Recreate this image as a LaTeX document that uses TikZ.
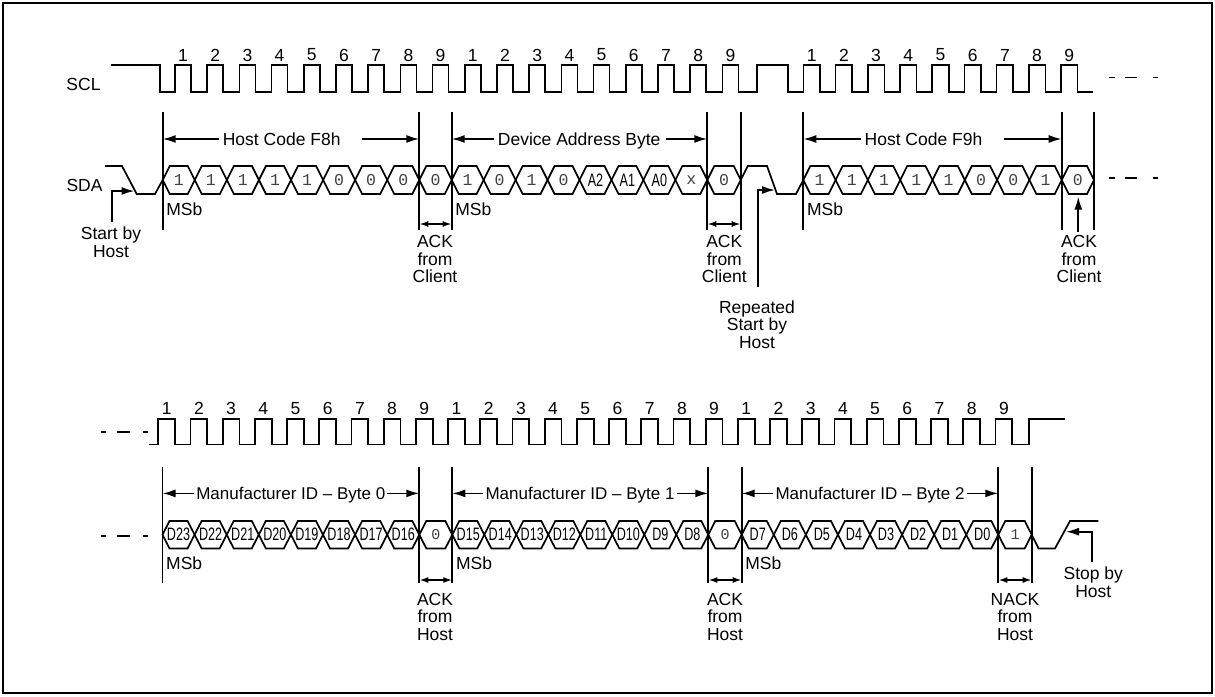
\documentclass[tikz,border=0pt]{standalone}
\usepackage{fontspec}
\usepackage{graphicx}
\setmainfont{Liberation Sans}
\newfontfamily\monof{Liberation Mono}
\usetikzlibrary{arrows.meta}
\newcommand{\bt}[1]{{\monof\fontsize{16.5}{16.5}\selectfont\color{black!75}#1}}
\newcommand{\bs}[1]{{\monof\fontsize{15}{15}\selectfont\color{black!75}#1}}
\newcommand{\dl}[1]{{\fontsize{18}{18}\selectfont\scalebox{0.7}[1]{#1}}}
\tikzset{
  sig/.style={line width=1.7pt},
  vline/.style={line width=1.7pt},
  lbl/.style={font=\fontsize{17.5}{17.5}\selectfont, inner sep=0pt},
  mlbl/.style={font=\fontsize{17}{17}\selectfont, inner sep=0pt},
  multi/.style={lbl, align=center, anchor=north},
  arr/.style={line width=1.7pt, -{Latex[length=13pt,width=8pt]}},
  ackarr/.style={line width=1.7pt, {Latex[length=9pt,width=6pt]}-{Latex[length=9pt,width=6pt]}}
}
% hexagon data cells: x0, width, ymid, half height, name prefix, labels
\newcommand{\hexrow}[6]{%
  \foreach \lab [count=\i from 0] in {#6} {%
    \pgfmathsetmacro\xa{#1+#2*\i}%
    \pgfmathsetmacro\xb{\xa+#2}%
    \draw[sig] (\xa,#3) -- ({\xa+7},{#3-#4}) -- ({\xb-7},{#3-#4}) -- (\xb,#3) -- ({\xb-7},{#3+#4}) -- ({\xa+7},{#3+#4}) -- cycle;
    \node[inner sep=0pt] (#5\i) at ({(\xa+\xb)/2},#3) {\lab};
  }}
% bracket arrows from a label to two markers
\newcommand{\brk}[6]{%
  \coordinate (#1L) at ([xshift=-#2pt,yshift=#6pt]#1.base west);
  \coordinate (#1R) at ([xshift=#3pt,yshift=#6pt]#1.base east);
  \draw[arr] (#1L) -- (#1L -| #4);
  \draw[arr] (#1R) -- (#1R -| #5);}
\begin{document}
\begin{tikzpicture}[x=1pt,y=-1pt]
\useasboundingbox (0,0) rectangle (1215,696);
\draw[line width=1.8pt] (3,3) rectangle (1212,692.7);

% ---------------- top row ----------------
\node[lbl] (scl) at (83.5,84.3) {SCL};
\node[lbl] (sda) at (84.5,185.7) {SDA};

\draw[sig] (111,65) -- (160,65) -- (160,91.7)
  \foreach \k in {0,...,17} { -- ({183+32.2*\k-8},91.7) -- ({183+32.2*\k-8},65) -- ({183+32.2*\k+8},65) -- ({183+32.2*\k+8},91.7) }
  -- (757,91.7) -- (757,65) -- (788,65) -- (788,91.7)
  \foreach \k in {0,...,8} { -- ({811.7+32.2*\k-8.3},91.7) -- ({811.7+32.2*\k-8.3},65) -- ({811.7+32.2*\k+8.3},65) -- ({811.7+32.2*\k+8.3},91.7) }
  -- (1093,91.7);

\foreach \k in {0,...,17} {\pgfmathtruncatemacro\n{mod(\k,9)+1}\node[lbl] (tp\k) at ({183+32.2*\k},55) {\n};}
\foreach \k in {0,...,8} {\pgfmathtruncatemacro\n{\k+1}\node[lbl] (tq\k) at ({811.7+32.2*\k},55) {\n};}

\foreach \x [count=\i] in {162.7,419.3,451.7,707.3,740.7,803.3,1061.7,1094}
  \draw[vline] (\x,111.5) -- (\x,229.5) coordinate (tm\i);

\draw[sig] (105,166) -- (122,166) -- (136.7,194) -- (155,194) -- (162.7,180);
\hexrow{162.7}{32.075}{180}{14}{ta}{\bt{1},\bt{1},\bt{1},\bt{1},\bt{1},\bt{0},\bt{0},\bt{0}}
\hexrow{419.3}{32.4}{180}{14}{tk}{\bt{0}}
\hexrow{451.7}{31.95}{180}{14}{tb}{\bt{1},\bt{0},\bt{1},\bt{0},\dl{A2},\dl{A1},\dl{A0},\bt{x}}
\hexrow{707.3}{33.4}{180}{14}{tl}{\bt{0}}
\draw[sig] (740.7,180) -- (747.7,166) -- (767,166) -- (777,194) -- (796,194) -- (803.3,180);
\hexrow{803.3}{32.3}{180}{14}{tc}{\bt{1},\bt{1},\bt{1},\bt{1},\bt{1},\bt{0},\bt{0},\bt{1}}
\hexrow{1061.7}{32.3}{180}{14}{tm}{\bt{0}}

\foreach \y in {77.5,178} {\draw[sig] (1109,\y) -- (1115,\y) (1125,\y) -- (1137,\y) (1152.7,\y) -- (1158,\y);}

\node[lbl, anchor=base] (hc8) at (281.7,145.2) {Host Code F8h};
\node[lbl, anchor=base] (dab) at (579.2,145.2) {Device Address Byte};
\node[lbl, anchor=base] (hc9) at (923.5,145.2) {Host Code F9h};
\brk{hc8}{4}{21}{tm1}{tm2}{6.2}
\brk{dab}{4}{5}{tm3}{tm4}{6.2}
\brk{hc9}{3}{21}{tm6}{tm7}{6.2}

\node[lbl, anchor=base west] (msb1) at (166.2,215.2) {MSb};
\node[lbl, anchor=base west] (msb2) at (455.2,215.2) {MSb};
\node[lbl, anchor=base west] (msb3) at (806.8,215.2) {MSb};

\draw[ackarr] ([yshift=5.5pt]tm2) -- ([yshift=5.5pt]tm3);
\draw[ackarr] ([yshift=5.5pt]tm4) -- ([yshift=5.5pt]tm5);

\node[multi] (ack1) at (435,235.4) {ACK\\from\\Client};
\node[multi] (ack2) at (724.3,235.4) {ACK\\from\\Client};
\node[multi] (ack3) at (1079,235.4) {ACK\\from\\Client};
\coordinate (ackpt) at (1078.3,196.7);
\draw[arr] ([xshift=-0.7pt,yshift=3.5pt]ack3.north) -- (ackpt);

\node[multi] (sbh) at (111,226.7) {Start by\\Host};
\coordinate (sdaS) at (134.5,191);
\draw[arr] ([xshift=0.7pt,yshift=5pt]sbh.north) |- (sdaS);

\node[multi] (rsh) at (757,300.4) {Repeated\\Start by\\Host};
\coordinate (sdaR) at (775,190);
\draw[arr] ([xshift=0.7pt,yshift=13.5pt]rsh.north) |- (sdaR);

% ---------------- bottom row ----------------
\foreach \y in {432.3,535.7} {\draw[sig] (101,\y) -- (106,\y) (117,\y) -- (130,\y) (143,\y) -- (147.5,\y);}

\draw[sig] (149,444.5)
  \foreach \k in {0,...,26} { -- ({166.7+32.2*\k-8.4},444.5) -- ({166.7+32.2*\k-8.4},419) -- ({166.7+32.2*\k+8.4},419) -- ({166.7+32.2*\k+8.4},444.5) }
  -- (1029,444.5) -- (1029,419) -- (1065,419);

\foreach \k in {0,...,26} {\pgfmathtruncatemacro\n{mod(\k,9)+1}\node[lbl] (bp\k) at ({166.7+32.2*\k},408.3) {\n};}

\foreach \x [count=\i] in {162.5,419.3,452.3,708.3,741.7,998.3,1031.7}
  \draw[vline] (\x,466.7) -- (\x,583.3) coordinate (bm\i);

\hexrow{162.5}{32.1}{534.7}{13.7}{ba}{\dl{D23},\dl{D22},\dl{D21},\dl{D20},\dl{D19},\dl{D18},\dl{D17},\dl{D16}}
\hexrow{419.3}{33}{534.7}{13.7}{bk}{\bs{0}}
\hexrow{452.3}{32}{534.7}{13.7}{bb}{\dl{D15},\dl{D14},\dl{D13},\dl{D12},\dl{D11},\dl{D10},\dl{D9},\dl{D8}}
\hexrow{708.3}{33.4}{534.7}{13.7}{bl}{\bs{0}}
\hexrow{741.7}{32.075}{534.7}{13.7}{bc}{\dl{D7},\dl{D6},\dl{D5},\dl{D4},\dl{D3},\dl{D2},\dl{D1},\dl{D0}}
\hexrow{998.3}{33.4}{534.7}{13.7}{bm}{\bs{1}}
\draw[sig] (1031.7,534.7) -- (1038.5,548.4) -- (1055,548.4) -- (1070,521) -- (1098.3,521);

\node[mlbl, anchor=base] (mb0) at (290.8,499.5) {Manufacturer ID \textendash{} Byte 0};
\node[mlbl, anchor=base] (mb1) at (580,499.5) {Manufacturer ID \textendash{} Byte 1};
\node[mlbl, anchor=base] (mb2) at (870,499.5) {Manufacturer ID \textendash{} Byte 2};
\brk{mb0}{2}{2}{bm1}{bm2}{6.1}
\brk{mb1}{2}{2}{bm3}{bm4}{6.1}
\brk{mb2}{2}{2}{bm5}{bm6}{6.1}

\node[lbl, anchor=base west] (msb4) at (166,569.5) {MSb};
\node[lbl, anchor=base west] (msb5) at (455.8,569.5) {MSb};
\node[lbl, anchor=base west] (msb6) at (745.2,569.5) {MSb};

\draw[ackarr] ([yshift=3.3pt]bm2) -- ([yshift=3.3pt]bm3);
\draw[ackarr] ([yshift=3.3pt]bm4) -- ([yshift=3.3pt]bm5);
\draw[ackarr] ([yshift=3.3pt]bm6) -- ([yshift=3.3pt]bm7);

\node[multi] (ack4) at (435,593) {ACK\\from\\Host};
\node[multi] (ack5) at (725,593) {ACK\\from\\Host};
\node[multi] (nack) at (1015,593) {NACK\\from\\Host};

\node[multi] (sph) at (1093.3,567) {Stop by\\Host};
\coordinate (sdaP) at (1066,531.7);
\draw[arr] ([xshift=-1.6pt,yshift=5pt]sph.north) |- (sdaP);
\end{tikzpicture}
\end{document}
